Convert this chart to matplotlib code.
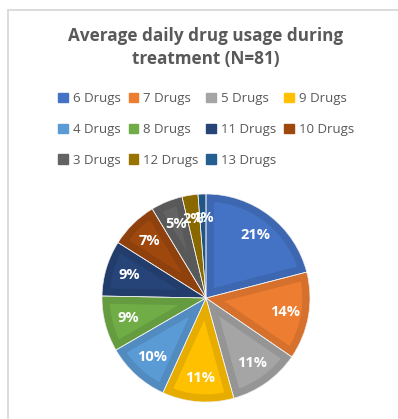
import matplotlib
matplotlib.use("Agg")
import matplotlib.pyplot as plt
from matplotlib.patches import Patch
from matplotlib.lines import Line2D
import matplotlib.colors as mcolors

title = "Average daily drug usage during\ntreatment (N=81)"
categories = ["6 Drugs", "7 Drugs", "5 Drugs", "9 Drugs", "4 Drugs", "8 Drugs",
              "11 Drugs", "10 Drugs", "3 Drugs", "12 Drugs", "13 Drugs"]
counts = [17, 11, 9, 9, 8, 7, 7, 6, 4, 2, 1]
colors = ["#4472C4", "#ED7D31", "#A5A5A5", "#FFC000", "#5B9BD5", "#70AD47",
          "#264478", "#9E480E", "#636363", "#997300", "#255E91"]

plt.rcParams['font.family'] = ['Open Sans', 'DejaVu Sans']

W, H = 398, 419
fig = plt.figure(figsize=(W / 100, H / 100), dpi=100)

# chart border (top and left visible)
fig.add_artist(Line2D([8 / W, 8 / W], [0, 1 - 10 / H], transform=fig.transFigure,
                      color="#D9D9D9", lw=1.3))
fig.add_artist(Line2D([8 / W, 1], [1 - 10 / H, 1 - 10 / H], transform=fig.transFigure,
                      color="#D9D9D9", lw=1.3))

fig.text(206 / W, 1 - 47.5 / H, title, ha="center", va="center", fontsize=12.3,
         fontweight="bold", color="#595959", linespacing=1.3)

cx, cy, r = 206, 298, 104
ax = fig.add_axes([(cx - r) / W, 1 - (cy + r) / H, 2 * r / W, 2 * r / H])
wedges, texts, autotexts = ax.pie(
    counts, colors=colors, startangle=90, counterclock=False,
    autopct="%1.0f%%", pctdistance=0.77,
    wedgeprops=dict(linewidth=0),
    textprops=dict(color="white", fontsize=10.5, fontweight="bold"))

def darker(c, f=0.9):
    rgb = mcolors.to_rgb(c)
    return tuple(v * f for v in rgb)

ax.set_aspect("equal")
ax.set_xlim(-1, 1)
ax.set_ylim(-1, 1)

for w, c in zip(wedges, colors):
    w.set_edgecolor(darker(c))
    w.set_linewidth(11)
    w.set_joinstyle("miter")
    w.set_clip_on(True)
    w.set_clip_path(w.get_path(), w.get_transform())
# thin light separators between slices
ax.pie(counts, startangle=90, counterclock=False,
       wedgeprops=dict(linewidth=0.5, edgecolor="#F2F2F2", facecolor="none"))
for t in autotexts:
    t.set_zorder(5)
ax.set_xlim(-1, 1)
ax.set_ylim(-1, 1)

# legend, row-wise fill order like the original
order = [0, 4, 8, 1, 5, 9, 2, 6, 10, 3, 7]
handles = [Patch(facecolor=colors[i], edgecolor=colors[i]) for i in order]
labels = [categories[i] for i in order]
fig.legend(handles, labels, ncol=4, loc="center", bbox_to_anchor=(206 / W, 1 - 129.5 / H),
           frameon=False, fontsize=9.5, labelcolor="#595959",
           handlelength=0.75, handleheight=0.75, handletextpad=0.35,
           columnspacing=0.6, labelspacing=1.35, borderpad=0)

fig.savefig("out.png", dpi=100)
